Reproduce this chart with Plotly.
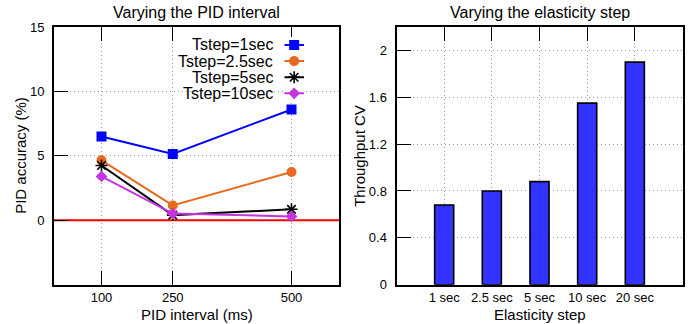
import plotly.graph_objects as go

# ---------------- data ----------------
pid_intervals = [100, 250, 500]
pid_x_range = [0, 600]
tstep_labels = ["Tstep=1sec", "Tstep=2.5sec", "Tstep=5sec", "Tstep=10sec"]
acc_1sec = [6.5, 5.15, 8.6]
acc_2_5sec = [4.65, 1.15, 3.75]
acc_5sec = [4.25, 0.4, 0.85]
acc_10sec = [3.4, 0.52, 0.3]
acc_yticks = [0, 5, 10, 15]
zero_ref = [0, 0]

elasticity_steps = ["1 sec", "2.5 sec", "5 sec", "10 sec", "20 sec"]
throughput_cv = [0.68, 0.80, 0.88, 1.55, 1.90]
cv_yticks = [0, 0.4, 0.8, 1.2, 1.6, 2]
cv_yticklabels = ["0", "0.4", "0.8", "1.2", "1.6", "2"]

# ---------------- styles ----------------
FONT = "Liberation Sans, Arial, Helvetica, sans-serif"
W, H = 696, 324
series = [
    (acc_1sec, "#0000ff", "square", 10, 0),
    (acc_2_5sec, "#e8691f", "circle", 10, 0),
    (acc_5sec, "#000000", "asterisk-open", 10, 1.6),
    (acc_10sec, "#c534e0", "diamond", 9, 0),
]

def px_x(p):
    return p / W

def px_y(p):
    return (H - p) / H

L_DOM = [px_x(54), px_x(339)]
R_DOM = [px_x(396.5), px_x(682.5)]
Y_DOM = [px_y(284.7), px_y(27)]

fig = go.Figure()

# zero reference line (drawn first, under the data)
fig.add_trace(go.Scatter(
    x=pid_x_range, y=zero_ref, mode="lines", line=dict(color="#ff0000", width=2),
    xaxis="x", yaxis="y", showlegend=False, hoverinfo="skip", cliponaxis=True))

# left panel lines
for vals, color, sym, size, lw in series:
    fig.add_trace(go.Scatter(
        x=pid_intervals, y=vals, mode="lines+markers",
        line=dict(color=color, width=2),
        marker=dict(symbol=sym, size=size, color=color,
                    line=dict(color=color, width=lw)),
        xaxis="x", yaxis="y", showlegend=False, hoverinfo="skip"))

# right panel bars
fig.add_trace(go.Bar(
    x=elasticity_steps, y=throughput_cv, width=0.4,
    marker=dict(color="#3333ff", line=dict(color="black", width=1.6)),
    xaxis="x2", yaxis="y2", showlegend=False, hoverinfo="skip"))

# manual gnuplot-style legend (text right, sample on right)
row_h = 16.1
first_row = 45
leg_top = first_row - 0.5 * row_h
leg_bot = first_row + 3.5 * row_h
for i, (vals, color, sym, size, lw) in enumerate(series):
    fig.add_trace(go.Scatter(
        x=[0, 1], y=[i, i], mode="lines", line=dict(color=color, width=2),
        xaxis="x3", yaxis="y3", showlegend=False, hoverinfo="skip"))
    fig.add_trace(go.Scatter(
        x=[0.5], y=[i], mode="markers",
        marker=dict(symbol=sym, size=size, color=color,
                    line=dict(color=color, width=lw)),
        xaxis="x3", yaxis="y3", showlegend=False, hoverinfo="skip"))

axis_common = dict(
    ticks="inside", ticklen=14, tickwidth=1, tickcolor="black",
    showline=True, linecolor="black", linewidth=2,
    showgrid=True, gridcolor="#9a9a9a", gridwidth=1, griddash="1px,3px",
    zeroline=False, tickfont=dict(family=FONT, size=13, color="black"),
    fixedrange=True, automargin=False,
)

annotations = [
    dict(text="Varying the PID interval", x=(L_DOM[0] + L_DOM[1]) / 2, y=px_y(12.5),
         xref="paper", yref="paper", showarrow=False, xanchor="center", yanchor="middle",
         font=dict(family=FONT, size=16, color="black")),
    dict(text="Varying the elasticity step", x=(R_DOM[0] + R_DOM[1]) / 2, y=px_y(12.5),
         xref="paper", yref="paper", showarrow=False, xanchor="center", yanchor="middle",
         font=dict(family=FONT, size=16, color="black")),
    dict(text="PID interval (ms)", x=(L_DOM[0] + L_DOM[1]) / 2, y=px_y(314),
         xref="paper", yref="paper", showarrow=False, xanchor="center", yanchor="middle",
         font=dict(family=FONT, size=15, color="black")),
    dict(text="Elasticity step", x=(R_DOM[0] + R_DOM[1]) / 2, y=px_y(314),
         xref="paper", yref="paper", showarrow=False, xanchor="center", yanchor="middle",
         font=dict(family=FONT, size=15, color="black")),
    dict(text="PID accuracy (%)", x=px_x(21), y=(Y_DOM[0] + Y_DOM[1]) / 2, textangle=-90,
         xref="paper", yref="paper", showarrow=False, xanchor="center", yanchor="middle",
         font=dict(family=FONT, size=15, color="black")),
    dict(text="Throughput CV", x=px_x(360), y=(Y_DOM[0] + Y_DOM[1]) / 2, textangle=-90,
         xref="paper", yref="paper", showarrow=False, xanchor="center", yanchor="middle",
         font=dict(family=FONT, size=15, color="black")),
]
for i, lab in enumerate(tstep_labels):
    annotations.append(dict(
        text=lab, x=px_x(275), y=i, xref="paper", yref="y3",
        showarrow=False, xanchor="right", yanchor="middle",
        font=dict(family=FONT, size=16, color="black")))

fig.update_layout(
    width=W, height=H, margin=dict(l=0, r=0, t=0, b=0),
    paper_bgcolor="white", plot_bgcolor="white",
    font=dict(family=FONT, color="black"),
    xaxis=dict(domain=L_DOM, range=pid_x_range, tickvals=pid_intervals,
               mirror="ticks", anchor="y", ticklabelstandoff=0, **axis_common),
    yaxis=dict(domain=Y_DOM, range=[-5, 15], tickvals=acc_yticks,
               mirror=True, anchor="x", ticklabelstandoff=5, **axis_common),
    xaxis2=dict(domain=R_DOM, range=[-1, 5], type="category",
                mirror="ticks", anchor="y2", layer="below traces",
                ticklabelstandoff=0, **axis_common),
    yaxis2=dict(domain=Y_DOM, range=[0, 2.2], tickvals=cv_yticks,
                ticktext=cv_yticklabels, mirror=True, anchor="x2",
                layer="below traces", ticklabelstandoff=5, **axis_common),
    xaxis3=dict(domain=[px_x(284.3), px_x(304)], range=[0, 1], visible=False,
                anchor="y3", fixedrange=True),
    yaxis3=dict(domain=[px_y(leg_bot), px_y(leg_top)], range=[3.5, -0.5],
                visible=False, anchor="x3", fixedrange=True),
    annotations=annotations,
    showlegend=False,
)

fig.write_html("out.html")
